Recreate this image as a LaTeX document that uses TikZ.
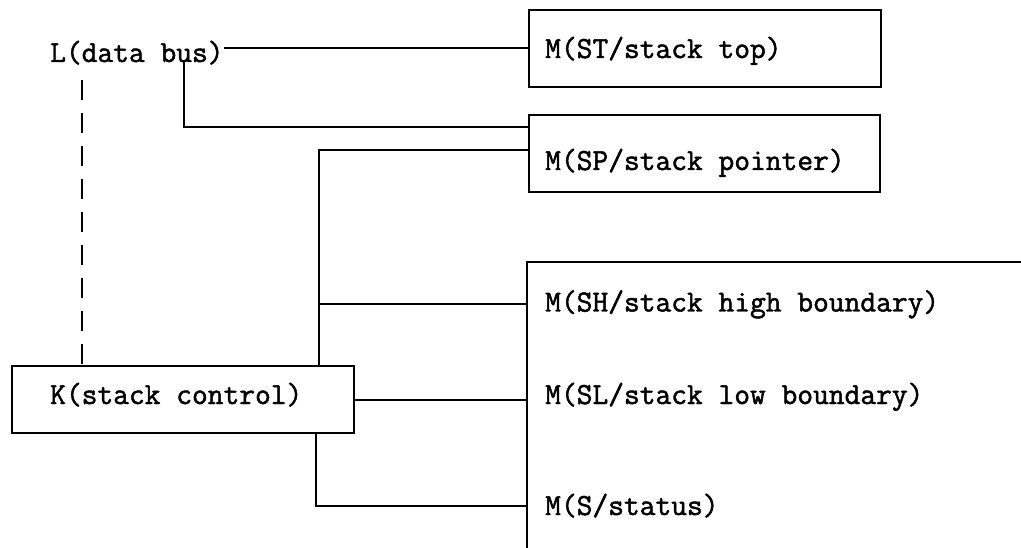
\documentclass[tikz,border=0pt]{standalone}
\usepackage{fontspec}
\newfontfamily\tw[FakeBold=1.6]{Latin Modern Mono}
\begin{document}
\begin{tikzpicture}[x=1pt,y=-1pt,
  wire/.style={line width=2pt},
  blockbox/.style={draw, line width=2pt, inner sep=0pt},
  lbl/.style={font=\tw\fontsize{30.6}{34}\selectfont, inner sep=0pt, anchor=base west},
  mlbl/.style={lbl, inner xsep=18pt}]
\useasboundingbox (0,0) rectangle (1021,548);

% register boxes
\node[blockbox, minimum width=352pt, minimum height=77pt] (STbox) at (705,48.5) {};
\node[blockbox, minimum width=351pt, minimum height=77pt] (SPbox) at (704.5,153.5) {};
\node[blockbox, minimum width=342pt, minimum height=67pt] (Kbox) at (183,399.5) {};

% texts
\node[lbl] (L) at (50,62) {L(data bus)};
\node[lbl] (ST) at (545,58) {M(ST/stack top)};
\node[lbl] (SP) at (545,170) {M(SP/stack pointer)};
\node[lbl] (K) at (50,404) {K(stack control)};
\node[mlbl] (SH) at (527,311.5) {M(SH/stack high boundary)};
\node[mlbl] (SL) at (527,404) {M(SL/stack low boundary)};
\node[mlbl] (S) at (527,515) {M(S/status)};

% frame round the lower registers
\coordinate (frameTop) at (1021,262);
\coordinate (frameFoot) at (527,548);
\draw[wire] (frameTop) -| (frameFoot);

% data bus
\coordinate (dbtap) at (184,60);
\draw[wire] (L.east |- STbox.west) -- (STbox.west);
\draw[wire] (dbtap) |- ([yshift=26pt]SPbox.west);
\draw[wire, dash pattern=on 20pt off 13pt] ([xshift=-101pt]Kbox.north |- dbtap) ++(0,20) -- ([xshift=-101pt]Kbox.north);

% control lines
\coordinate (busU) at ([xshift=136pt]Kbox.north);
\draw[wire] (busU) |- ([yshift=3.5pt]SPbox.west);
\draw[wire] (busU |- SH.west) -- (SH.west);
\draw[wire] (Kbox.east) -- (Kbox.east -| SL.west);
\draw[wire] ([xshift=133pt]Kbox.south) |- (S.west);
\end{tikzpicture}
\end{document}
